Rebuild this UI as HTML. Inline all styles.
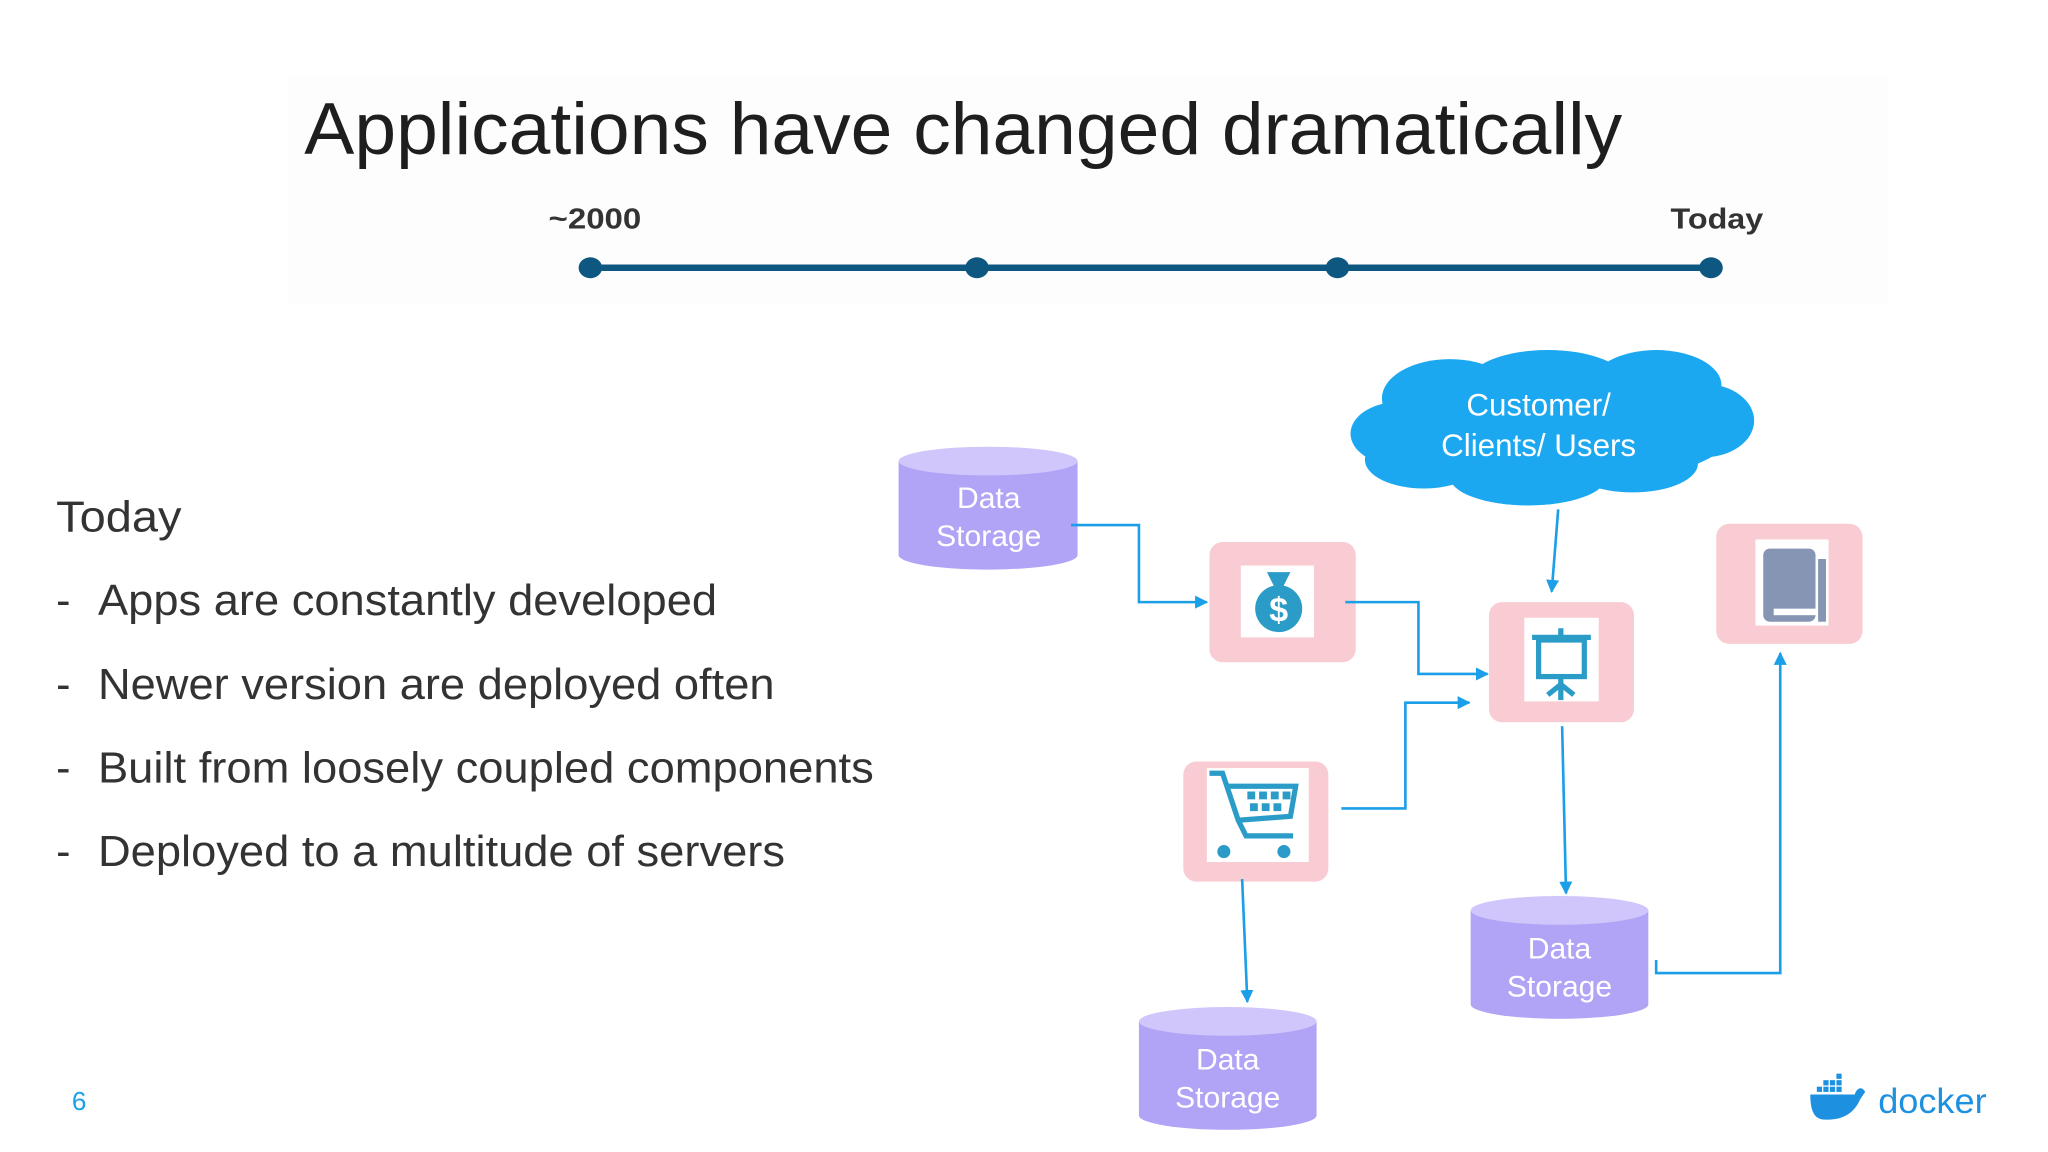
<!DOCTYPE html>
<html><head><meta charset="utf-8"><style>
html,body{margin:0;padding:0;background:#fff;}
svg{display:block;}
text{font-family:"Liberation Sans",Arial,sans-serif;}
</style></head><body>
<svg width="2048" height="1152" viewBox="0 0 1568 882" xmlns="http://www.w3.org/2000/svg">
<defs>
<marker id="ah" markerWidth="10" markerHeight="10" refX="9" refY="5" orient="auto" markerUnits="userSpaceOnUse">
<path d="M0,0 L10,5 L0,10 z" fill="#1a9fe8"/>
</marker>
</defs>
<rect x="0" y="0" width="1568" height="882" fill="#fff"/>
<rect x="220" y="58" width="1225" height="175" fill="#fdfdfd"/>
<text x="233" y="118" font-size="56" fill="#1e1e1e" textLength="1009" lengthAdjust="spacingAndGlyphs">Applications have changed dramatically</text>
<text x="420" y="175" font-size="22" font-weight="bold" fill="#333" textLength="71" lengthAdjust="spacingAndGlyphs">~2000</text>
<text x="1279" y="175" font-size="22" font-weight="bold" fill="#333" textLength="71" lengthAdjust="spacingAndGlyphs">Today</text>
<line x1="452" y1="205" x2="1310" y2="205" stroke="#0e5780" stroke-width="5"/>
<g fill="#0e5780"><ellipse cx="452" cy="205" rx="9" ry="8"/><ellipse cx="748" cy="205" rx="9" ry="8"/><ellipse cx="1024" cy="205" rx="9" ry="8"/><ellipse cx="1310" cy="205" rx="9" ry="8"/></g>

<g font-size="33" fill="#333">
<text x="43" y="407" textLength="96" lengthAdjust="spacingAndGlyphs">Today</text>
<text x="43" y="471">-</text><text x="75" y="471" textLength="474" lengthAdjust="spacingAndGlyphs">Apps are constantly developed</text>
<text x="43" y="535">-</text><text x="75" y="535" textLength="518" lengthAdjust="spacingAndGlyphs">Newer version are deployed often</text>
<text x="43" y="599">-</text><text x="75" y="599" textLength="594" lengthAdjust="spacingAndGlyphs">Built from loosely coupled components</text>
<text x="43" y="663">-</text><text x="75" y="663" textLength="526" lengthAdjust="spacingAndGlyphs">Deployed to a multitude of servers</text>
</g>

<g font-size="23" fill="#fff" text-anchor="middle">
<path d="M688,353 L688,425 A68,11 0 0 0 825,425 L825,353 Z" fill="#b1a3f6"/>
<ellipse cx="756.5" cy="353" rx="68.5" ry="11" fill="#d0c6fb"/>
<text x="757" y="389">Data</text><text x="757" y="418">Storage</text>
<path d="M1126,697 L1126,769 A68,11 0 0 0 1262,769 L1262,697 Z" fill="#b1a3f6"/>
<ellipse cx="1194" cy="697" rx="68" ry="11" fill="#d0c6fb"/>
<text x="1194" y="734">Data</text><text x="1194" y="763">Storage</text>
<path d="M872,782 L872,854 A68,11 0 0 0 1008,854 L1008,782 Z" fill="#b1a3f6"/>
<ellipse cx="940" cy="782" rx="68" ry="11" fill="#d0c6fb"/>
<text x="940" y="819">Data</text><text x="940" y="848">Storage</text>
</g>

<g fill="#1ca8f1">
<ellipse cx="1188" cy="328" rx="140" ry="45"/>
<ellipse cx="1110" cy="305" rx="52" ry="30"/>
<ellipse cx="1185" cy="292" rx="60" ry="24"/>
<ellipse cx="1268" cy="295" rx="50" ry="27"/>
<ellipse cx="1305" cy="322" rx="38" ry="28"/>
<ellipse cx="1070" cy="332" rx="36" ry="24"/>
<ellipse cx="1090" cy="352" rx="45" ry="22"/>
<ellipse cx="1170" cy="365" rx="60" ry="22"/>
<ellipse cx="1250" cy="355" rx="50" ry="22"/>
</g>
<g font-size="24" fill="#fff" text-anchor="middle">
<text x="1178" y="318">Customer/</text><text x="1178" y="349">Clients/ Users</text>
</g>

<g fill="#f8ccd2">
<rect x="926" y="415" width="112" height="92" rx="10"/>
<rect x="1140" y="461" width="111" height="92" rx="10"/>
<rect x="906" y="583" width="111" height="92" rx="10"/>
<rect x="1314" y="401" width="112" height="92" rx="10"/>
</g>
<g fill="#fff">
<rect x="950" y="433" width="56" height="55"/>
<rect x="1167" y="473" width="57" height="64"/>
<rect x="924" y="588" width="78" height="72"/>
<rect x="1344" y="413" width="56" height="66"/>
</g>
<circle cx="979" cy="466" r="18" fill="#2b9cc8"/>
<path d="M970,438 L988,438 L982,450 L976,450 Z" fill="#2b9cc8"/>
<text x="979" y="476" font-size="26" font-weight="bold" fill="#fff" text-anchor="middle">$</text>
<g stroke="#2b9cc8" stroke-width="4" fill="none">
<line x1="1173" y1="488" x2="1218" y2="488"/>
<rect x="1178" y="490" width="35" height="28"/>
<line x1="1195" y1="518" x2="1195" y2="536"/>
<path d="M1185,532 L1195,524 L1205,532"/>
<line x1="1195" y1="481" x2="1195" y2="488"/>
</g>
<g stroke="#2b9cc8" stroke-width="4" fill="none">
<path d="M926,592 L936,592 L948,628 L954,640 L990,640"/>
<path d="M940,602 L992,602 L988,625 L948,628"/>
</g>
<g fill="#2b9cc8"><circle cx="937" cy="652" r="5"/><circle cx="983" cy="652" r="5"/>
<rect x="955" y="606" width="6" height="6"/><rect x="964" y="606" width="6" height="6"/><rect x="973" y="606" width="6" height="6"/><rect x="982" y="606" width="6" height="6"/>
<rect x="957" y="615" width="6" height="6"/><rect x="966" y="615" width="6" height="6"/><rect x="975" y="615" width="6" height="6"/></g>
<rect x="1350" y="420" width="40" height="56" rx="5" fill="#8595b3"/>
<rect x="1358" y="466" width="38" height="5" fill="#fff"/>
<rect x="1392" y="428" width="6" height="48" fill="#8595b3"/>

<g stroke="#1a9fe8" stroke-width="2" fill="none" marker-end="url(#ah)">
<polyline points="820,402 872,402 872,461 924,461"/>
<polyline points="1030,461 1086,461 1086,516 1139,516"/>
<polyline points="1027,619 1076,619 1076,538 1125,538"/>
<polyline points="1193,390 1188,453"/>
<polyline points="1196,556 1199,684"/>
<polyline points="951,673 955,767"/>
<polyline points="1268,735 1268,745 1363,745 1363,500"/>
</g>

<text x="55" y="850" font-size="20" fill="#1a9fe8">6</text>
<g fill="#1d91e0">
<path d="M1386,838 L1420,838 C1422,832 1426,832 1428,836 L1424,842 C1418,856 1405,858 1395,857 C1388,856 1386,848 1386,838 Z"/>
<g><rect x="1391" y="832" width="4" height="4"/><rect x="1396" y="832" width="4" height="4"/><rect x="1401" y="832" width="4" height="4"/><rect x="1406" y="832" width="4" height="4"/><rect x="1396" y="827" width="4" height="4"/><rect x="1401" y="827" width="4" height="4"/><rect x="1406" y="827" width="4" height="4"/><rect x="1406" y="822" width="4" height="4"/></g>
</g>
<text x="1438" y="852" font-size="27" fill="#1d91e0" textLength="83" lengthAdjust="spacingAndGlyphs">docker</text>
</svg>
</body></html>
